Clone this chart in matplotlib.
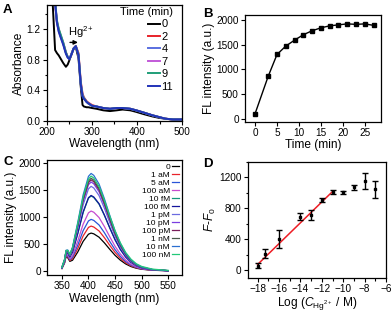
import matplotlib
matplotlib.use("Agg")
import matplotlib.pyplot as plt
from matplotlib.ticker import MultipleLocator, FormatStrFormatter

plt.rcParams['font.family'] = ['Liberation Sans', 'DejaVu Sans']
plt.rcParams['mathtext.fontset'] = 'custom'
plt.rcParams['mathtext.rm'] = 'Liberation Sans'
plt.rcParams['mathtext.it'] = 'Liberation Sans:italic'
plt.rcParams['mathtext.bf'] = 'Liberation Sans:bold'

# ---------------- Panel A data ----------------
wl_abs = [210, 213, 218, 222, 226, 230, 236, 242, 246, 250, 255, 259, 264, 270, 275, 279, 282, 288, 292, 300, 310, 325, 340, 355, 368, 385, 398, 415, 434, 450, 463, 480, 500]
abs_t0 = [1.70, 1.50, 0.93, 0.89, 0.86, 0.82, 0.76, 0.71, 0.74, 0.80, 0.89, 0.94, 0.97, 0.82, 0.45, 0.21, 0.19, 0.18, 0.18, 0.17, 0.16, 0.14, 0.13, 0.14, 0.15, 0.14, 0.12, 0.09, 0.06, 0.04, 0.03, 0.02, 0.02]
abs_t2 = [1.75, 1.70, 1.55, 1.30, 1.20, 1.12, 1.02, 0.90, 0.84, 0.81, 0.88, 0.95, 0.985, 0.89, 0.52, 0.36, 0.31, 0.26, 0.24, 0.21, 0.19, 0.17, 0.16, 0.17, 0.17, 0.16, 0.14, 0.11, 0.075, 0.05, 0.03, 0.02, 0.02]
abs_t4 = [1.75, 1.70, 1.55, 1.29, 1.18, 1.11, 1.01, 0.89, 0.84, 0.82, 0.89, 0.95, 0.98, 0.87, 0.50, 0.34, 0.30, 0.25, 0.23, 0.20, 0.19, 0.17, 0.16, 0.17, 0.17, 0.16, 0.14, 0.11, 0.075, 0.05, 0.03, 0.02, 0.02]
abs_t7 = [1.75, 1.70, 1.56, 1.31, 1.20, 1.13, 1.03, 0.90, 0.84, 0.81, 0.88, 0.95, 0.98, 0.87, 0.49, 0.33, 0.30, 0.25, 0.23, 0.20, 0.19, 0.17, 0.16, 0.17, 0.17, 0.16, 0.14, 0.11, 0.075, 0.05, 0.03, 0.02, 0.02]
abs_t9 = [1.75, 1.70, 1.57, 1.32, 1.21, 1.14, 1.03, 0.90, 0.84, 0.81, 0.88, 0.95, 0.98, 0.87, 0.49, 0.33, 0.30, 0.25, 0.23, 0.20, 0.19, 0.17, 0.16, 0.17, 0.17, 0.16, 0.14, 0.11, 0.075, 0.05, 0.03, 0.02, 0.02]
abs_t11 = [1.75, 1.70, 1.55, 1.29, 1.17, 1.10, 1.00, 0.88, 0.83, 0.81, 0.88, 0.95, 0.98, 0.86, 0.48, 0.32, 0.29, 0.25, 0.23, 0.20, 0.19, 0.17, 0.16, 0.17, 0.17, 0.16, 0.14, 0.11, 0.075, 0.05, 0.03, 0.02, 0.02]
abs_labels = ['0', '2', '4', '7', '9', '11']
abs_colors = ['#000000', '#e8232a', '#5a6fe0', '#c25ad8', '#1f9e78', '#2233b8']

# ---------------- Panel B data ----------------
time_min = [0, 3, 5, 7, 9, 11, 13, 15, 17, 19, 21, 23, 25, 27]
fl_time = [100, 860, 1300, 1470, 1590, 1700, 1780, 1840, 1880, 1900, 1920, 1910, 1920, 1890]

# ---------------- Panel C data ----------------
wl_em = [350, 355, 358, 361, 365, 370, 380, 390, 400, 405, 410, 420, 430, 440, 450, 460, 470, 480, 490, 500, 520, 550]
em_0 = [39, 142, 270, 241, 174, 194, 350, 546, 679, 700, 686, 623, 518, 399, 287, 196, 126, 77, 46, 27, 8, 0]
em_1aM = [42, 150, 283, 258, 190, 223, 415, 647, 805, 830, 813, 739, 614, 473, 340, 232, 149, 91, 54, 32, 10, 0]
em_5aM = [44, 157, 296, 274, 205, 250, 478, 745, 926, 955, 936, 850, 707, 544, 392, 267, 172, 105, 62, 36, 11, 0]
em_100aM = [47, 167, 311, 294, 223, 284, 555, 866, 1077, 1110, 1088, 988, 821, 633, 455, 311, 200, 122, 72, 42, 13, 0]
em_10fM = [53, 183, 339, 331, 257, 346, 695, 1084, 1348, 1390, 1362, 1237, 1029, 800, 585, 405, 265, 165, 100, 60, 22, 3]
em_100fM = [53, 184, 340, 332, 258, 348, 700, 1092, 1358, 1400, 1372, 1246, 1036, 798, 574, 392, 252, 154, 91, 53, 17, 0]
em_1pM = [56, 194, 357, 354, 278, 385, 785, 1225, 1523, 1570, 1539, 1397, 1162, 895, 644, 440, 283, 173, 102, 60, 19, 0]
em_10pM = [58, 199, 365, 365, 288, 403, 825, 1287, 1601, 1650, 1617, 1469, 1221, 941, 677, 462, 297, 182, 107, 63, 20, 0]
em_100pM = [59, 201, 369, 370, 293, 412, 845, 1318, 1639, 1690, 1656, 1504, 1251, 963, 693, 473, 304, 186, 110, 64, 20, 0]
em_1nM = [59, 203, 372, 374, 296, 418, 860, 1342, 1668, 1720, 1686, 1531, 1273, 980, 705, 482, 310, 189, 112, 65, 21, 0]
em_10nM = [61, 209, 381, 385, 307, 438, 905, 1412, 1756, 1810, 1774, 1611, 1339, 1032, 742, 507, 326, 199, 118, 69, 22, 0]
em_100nM = [60, 206, 376, 379, 301, 427, 880, 1373, 1707, 1760, 1725, 1566, 1310, 1020, 745, 520, 340, 215, 130, 80, 30, 5]
em_series = [em_0, em_1aM, em_5aM, em_100aM, em_10fM, em_100fM, em_1pM, em_10pM, em_100pM, em_1nM, em_10nM, em_100nM]
em_labels = ['0', '1 aM', '5 aM', '100 aM', '10 fM', '100 fM', '1 pM', '10 pM', '100 pM', '1 nM', '10 nM', '100 nM']
em_colors = ['#000000', '#e8232a', '#2a55d8', '#c64ccf', '#14977a', '#14149c',
             '#6b6be0', '#7a3ee0', '#7a1f5a', '#4a5a4a', '#2b6fd0', '#22c878']

# ---------------- Panel D data ----------------
log_c = [-18, -17.3, -16, -14, -13, -12, -11, -10, -9, -8, -7]
dF = [60, 214, 407, 694, 716, 909, 1007, 1007, 1071, 1153, 1046]
dF_err = [28, 60, 113, 45, 60, 21, 26, 15, 36, 107, 107]
fit_x = [-18, -11]
fit_y = [75, 1018]

# ---------------- Figure ----------------
W, H = 392, 315
fig = plt.figure(figsize=(W / 100, H / 100), dpi=100)

def add_ax(l, t, r, b):
    return fig.add_axes([l / W, 1 - b / H, (r - l) / W, (b - t) / H])

TICK = 7.2
LAB = 8.6

def style(ax):
    ax.tick_params(which='both', direction='out', labelsize=TICK, width=0.8, pad=1.5)
    ax.tick_params(which='major', length=3)
    ax.tick_params(which='minor', length=1.8)
    for s in ax.spines.values():
        s.set_linewidth(0.9)

# Panel A
axA = add_ax(47, 5, 182, 121)
abs_all = [abs_t0, abs_t2, abs_t4, abs_t7, abs_t9, abs_t11]
for ys, c, lab in zip(abs_all, abs_colors, abs_labels):
    axA.plot(wl_abs, ys, color=c, lw=1.4, label=lab)
axA.set_xlim(200, 500)
axA.set_ylim(0, 1.52)
axA.xaxis.set_major_locator(MultipleLocator(100))
axA.xaxis.set_minor_locator(MultipleLocator(50))
axA.yaxis.set_major_locator(MultipleLocator(0.4))
axA.yaxis.set_minor_locator(MultipleLocator(0.2))
axA.yaxis.set_major_formatter(FormatStrFormatter('%.1f'))
axA.set_xlabel('Wavelength (nm)', fontsize=LAB, labelpad=0.5)
axA.set_ylabel('Absorbance', fontsize=LAB, labelpad=1)
style(axA)
legA = axA.legend(title='Time (min)', loc='upper right',
                  bbox_to_anchor=((173 - 47) / 135, (121 - 7) / 116),
                  fontsize=8, title_fontsize=8,
                  frameon=False, handlelength=1.05, handletextpad=0.15, labelspacing=0.22,
                  borderaxespad=0.0, borderpad=0.0)
legA._legend_box.align = 'right'
axA.annotate('', xy=(275, 1.03), xytext=(245, 1.03),
             arrowprops=dict(arrowstyle='-|>', color='black', lw=1.0, mutation_scale=6))
axA.text(246, 1.16, 'Hg$^{2+}$', fontsize=8, ha='left', va='center')

# Panel B
axB = add_ax(245, 15, 381, 122)
axB.plot(time_min, fl_time, color='black', lw=1.0, marker='s', ms=3.5)
axB.set_xlim(-2.3, 28.7)
axB.set_ylim(-70, 2100)
axB.xaxis.set_major_locator(MultipleLocator(5))
axB.yaxis.set_major_locator(MultipleLocator(500))
axB.set_xlabel('Time (min)', fontsize=LAB, labelpad=0.5)
axB.set_ylabel('FL intensity (a.u.)', fontsize=LAB, labelpad=1)
style(axB)

# Panel C
axC = add_ax(47, 160, 182, 275)
for ys, c, lab in zip(em_series, em_colors, em_labels):
    axC.plot(wl_em, ys, color=c, lw=0.9, label=lab)
axC.set_xlim(322, 576)
axC.set_ylim(-80, 2060)
axC.xaxis.set_major_locator(MultipleLocator(50))
axC.yaxis.set_major_locator(MultipleLocator(500))
axC.set_xlabel('Wavelength (nm)', fontsize=LAB, labelpad=1.5)
axC.set_ylabel('FL intensity (a.u.)', fontsize=LAB, labelpad=1)
style(axC)
legC = axC.legend(loc='upper right', fontsize=6.0, frameon=False, markerfirst=False,
                  handlelength=0.8, handletextpad=0.25, labelspacing=0.02,
                  borderaxespad=0.4, borderpad=0.0)
for t in legC.get_texts():
    t.set_ha('right')
legC._legend_box.align = 'right'

# Panel D
axD = add_ax(248, 162, 386, 278)
axD.errorbar(log_c, dF, yerr=dF_err, fmt='s', color='black', ms=2, lw=1.0,
             capsize=2, capthick=1.0, zorder=3)
axD.plot(fit_x, fit_y, color='#ee1c24', lw=1.1, zorder=2)
axD.set_xlim(-18.9, -6)
axD.set_ylim(-100, 1400)
axD.xaxis.set_major_locator(MultipleLocator(2))
axD.xaxis.set_minor_locator(MultipleLocator(1))
axD.yaxis.set_major_locator(MultipleLocator(400))
axD.yaxis.set_minor_locator(MultipleLocator(200))
axD.set_xlabel(r'Log ($C_{\mathrm{Hg^{2+}}}$ / M)', fontsize=LAB, labelpad=0.5)
axD.set_ylabel(r'$F$-$F_0$', fontsize=LAB, labelpad=1)
style(axD)

# Panel letters
for txt, x, y in [('A', 3, 4), ('B', 203, 8), ('C', 3, 156), ('D', 203, 158)]:
    fig.text(x / W, 1 - y / H, txt, fontsize=9.5, fontweight='bold', ha='left', va='top')

fig.savefig('out.png', dpi=100)
